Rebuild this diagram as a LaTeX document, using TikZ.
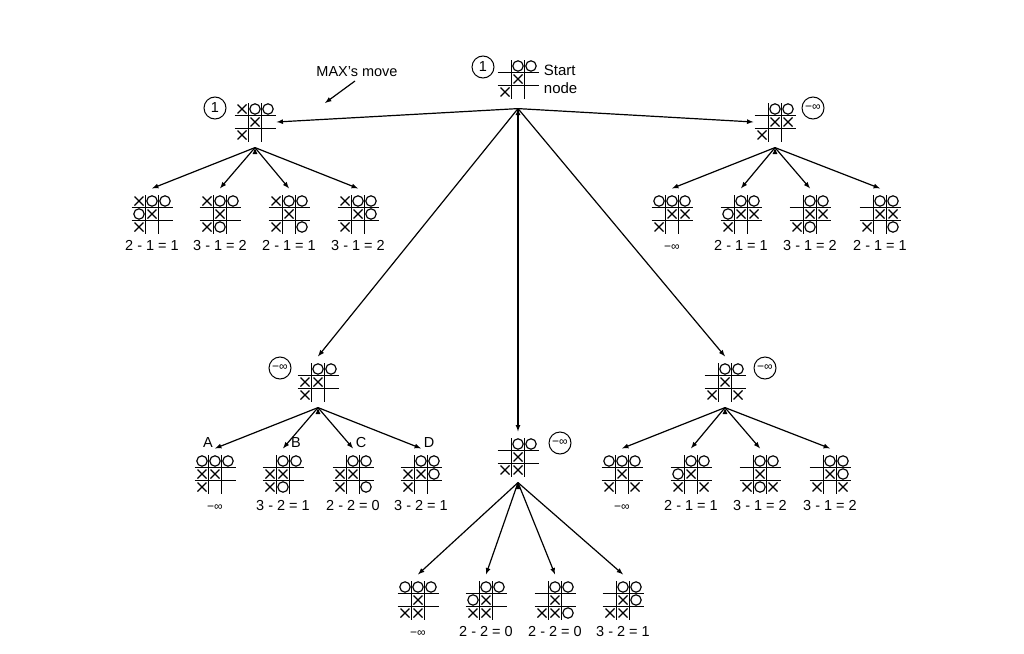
\documentclass[tikz,border=0pt]{standalone}
\usepackage{fontspec}
\setmainfont{Liberation Sans}
\usetikzlibrary{arrows,positioning}

\tikzset{
    board/.style={inner sep=0, minimum width=42pt, minimum height=50pt},
    gridline/.style={line width=1.5pt},
    markline/.style={line width=1.15pt},
    valcircle/.style={draw, circle, line width=1pt, minimum size=22pt, inner sep=0},
    score/.style={inner sep=0, text height=10.5pt, text depth=0pt},
    minf/.style={font=\fontsize{12}{12}\selectfont},
}

% grid and marks of one board: node, X cells, O cells (column/row)
\newcommand{\drawboard}[3]{%
    \begin{scope}[shift={(#1.center)}]
        \draw[gridline] (-20.5,-6.5) -- (20.5,-6.5) (-20.5,6.5) -- (20.5,6.5)
            (-6.5,-19) -- (-6.5,20) (6.5,-19) -- (6.5,20);
        \foreach \c/\r in {#2}
            \draw[markline] ({(\c-2)*13-4.5},{(\r-2)*13-4.5}) -- ++(9,9)
                ({(\c-2)*13-4.5},{(\r-2)*13+4.5}) -- ++(9,-9);
        \foreach \c/\r in {#3}
            \draw[markline] ({(\c-2)*13},{(\r-2)*13}) circle (5.2pt);
    \end{scope}}

\begin{document}
\begin{tikzpicture}[x=1pt,y=-1pt,font=\fontsize{14.5}{17}\selectfont,line width=1.2pt]

\useasboundingbox (0,0) rectangle (1024,653);

% Start node
\node[board] (start) at (518,79) {};
\drawboard{start}{2/2,1/3}{2/1,3/1}
\node[valcircle] (startval) at (483,67) {1};
\node[align=left,
    anchor=west,
    font=\fontsize{15}{18}\selectfont] (startlabel) at (540,79) {Start\\node};
\node[coordinate,below=4pt of start] (fork) {};

% MAX's move
\node (maxlabel) at (357,72) {MAX's move};
\coordinate (maxtip) at (325,103);

% Left MAX node
\node[board] (lt) at (255,122) {};
\drawboard{lt}{1/1,2/2,1/3}{2/1,3/1}
\node[valcircle] (ltval) at (215,108) {1};

\node[board] (lt1) at (152,214) {};
\drawboard{lt1}{1/1,2/2,1/3}{2/1,3/1,1/2}
\node[score,below=0pt of lt1] (lt1val) {2 - 1 = 1};

\node[board] (lt2) at (220,214) {};
\drawboard{lt2}{1/1,2/2,1/3}{2/1,3/1,2/3}
\node[score,below=0pt of lt2] (lt2val) {3 - 1 = 2};

\node[board] (lt3) at (289,214) {};
\drawboard{lt3}{1/1,2/2,1/3}{2/1,3/1,3/3}
\node[score,below=0pt of lt3] (lt3val) {2 - 1 = 1};

\node[board] (lt4) at (358,214) {};
\drawboard{lt4}{1/1,2/2,1/3}{2/1,3/1,3/2}
\node[score,below=0pt of lt4] (lt4val) {3 - 1 = 2};

% Right MAX node
\node[board] (rt) at (775,122) {};
\drawboard{rt}{2/2,3/2,1/3}{2/1,3/1}
\node[valcircle,minf] (rtval) at (813,108) {−∞};

\node[board] (rt1) at (672,214) {};
\drawboard{rt1}{2/2,3/2,1/3}{1/1,2/1,3/1}
\node[score,minf,below=0pt of rt1] (rt1val) {−∞};

\node[board] (rt2) at (741,214) {};
\drawboard{rt2}{2/2,3/2,1/3}{2/1,3/1,1/2}
\node[score,below=0pt of rt2] (rt2val) {2 - 1 = 1};

\node[board] (rt3) at (810,214) {};
\drawboard{rt3}{2/2,3/2,1/3}{2/1,3/1,2/3}
\node[score,below=0pt of rt3] (rt3val) {3 - 1 = 2};

\node[board] (rt4) at (880,214) {};
\drawboard{rt4}{2/2,3/2,1/3}{2/1,3/1,3/3}
\node[score,below=0pt of rt4] (rt4val) {2 - 1 = 1};

% Middle left node
\node[board] (ml) at (318,382) {};
\drawboard{ml}{1/2,2/2,1/3}{2/1,3/1}
\node[valcircle,minf] (mlval) at (280,368) {−∞};

\node[board] (mlA) at (215,474) {};
\drawboard{mlA}{1/2,2/2,1/3}{1/1,2/1,3/1}
\node[score,minf,below=0pt of mlA] (mlAval) {−∞};
\node (mlAname) at (208,443) {A};

\node[board] (mlB) at (283,474) {};
\drawboard{mlB}{1/2,2/2,1/3}{2/1,3/1,2/3}
\node[score,below=0pt of mlB] (mlBval) {3 - 2 = 1};
\node (mlBname) at (296,443) {B};

\node[board] (mlC) at (353,474) {};
\drawboard{mlC}{1/2,2/2,1/3}{2/1,3/1,3/3}
\node[score,below=0pt of mlC] (mlCval) {2 - 2 = 0};
\node (mlCname) at (361,443) {C};

\node[board] (mlD) at (421,474) {};
\drawboard{mlD}{1/2,2/2,1/3}{2/1,3/1,3/2}
\node[score,below=0pt of mlD] (mlDval) {3 - 2 = 1};
\node (mlDname) at (429,443) {D};

% Middle centre node
\node[board] (mc) at (518,457) {};
\drawboard{mc}{2/2,1/3,2/3}{2/1,3/1}
\node[valcircle,minf] (mcval) at (560,443) {−∞};

\node[board] (mc1) at (418,600) {};
\drawboard{mc1}{2/2,1/3,2/3}{1/1,2/1,3/1}
\node[score,minf,below=0pt of mc1] (mc1val) {−∞};

\node[board] (mc2) at (486,600) {};
\drawboard{mc2}{2/2,1/3,2/3}{2/1,3/1,1/2}
\node[score,below=0pt of mc2] (mc2val) {2 - 2 = 0};

\node[board] (mc3) at (555,600) {};
\drawboard{mc3}{2/2,1/3,2/3}{2/1,3/1,3/3}
\node[score,below=0pt of mc3] (mc3val) {2 - 2 = 0};

\node[board] (mc4) at (623,600) {};
\drawboard{mc4}{2/2,1/3,2/3}{2/1,3/1,3/2}
\node[score,below=0pt of mc4] (mc4val) {3 - 2 = 1};

% Middle right node
\node[board] (mr) at (725,382) {};
\drawboard{mr}{2/2,1/3,3/3}{2/1,3/1}
\node[valcircle,minf] (mrval) at (765,368) {−∞};

\node[board] (mr1) at (622,474) {};
\drawboard{mr1}{2/2,1/3,3/3}{1/1,2/1,3/1}
\node[score,minf,below=0pt of mr1] (mr1val) {−∞};

\node[board] (mr2) at (691,474) {};
\drawboard{mr2}{2/2,1/3,3/3}{2/1,3/1,1/2}
\node[score,below=0pt of mr2] (mr2val) {2 - 1 = 1};

\node[board] (mr3) at (760,474) {};
\drawboard{mr3}{2/2,1/3,3/3}{2/1,3/1,2/3}
\node[score,below=0pt of mr3] (mr3val) {3 - 1 = 2};

\node[board] (mr4) at (830,474) {};
\drawboard{mr4}{2/2,1/3,3/3}{2/1,3/1,3/2}
\node[score,below=0pt of mr4] (mr4val) {3 - 1 = 2};

% Arrows
\draw[-latex] ([xshift=-2pt]maxlabel.south) -- (maxtip);

\draw[-latex] (fork) edge (lt.east)
    (fork) edge (rt.west)
    (fork) edge (ml.north)
    (fork) edge (mc.north)
    (fork) edge (mr.north);

\draw[-latex] (lt.south) edge (lt1.north)
    (lt.south) edge (lt2.north)
    (lt.south) edge (lt3.north)
    (lt.south) edge (lt4.north);

\draw[-latex] (rt.south) edge (rt1.north)
    (rt.south) edge (rt2.north)
    (rt.south) edge (rt3.north)
    (rt.south) edge (rt4.north);

\draw[-latex] (ml.south) edge (mlA.north)
    (ml.south) edge (mlB.north)
    (ml.south) edge (mlC.north)
    (ml.south) edge (mlD.north);

\draw[-latex] (mc.south) edge (mc1.north)
    (mc.south) edge (mc2.north)
    (mc.south) edge (mc3.north)
    (mc.south) edge (mc4.north);

\draw[-latex] (mr.south) edge (mr1.north)
    (mr.south) edge (mr2.north)
    (mr.south) edge (mr3.north)
    (mr.south) edge (mr4.north);

\end{tikzpicture}
\end{document}
